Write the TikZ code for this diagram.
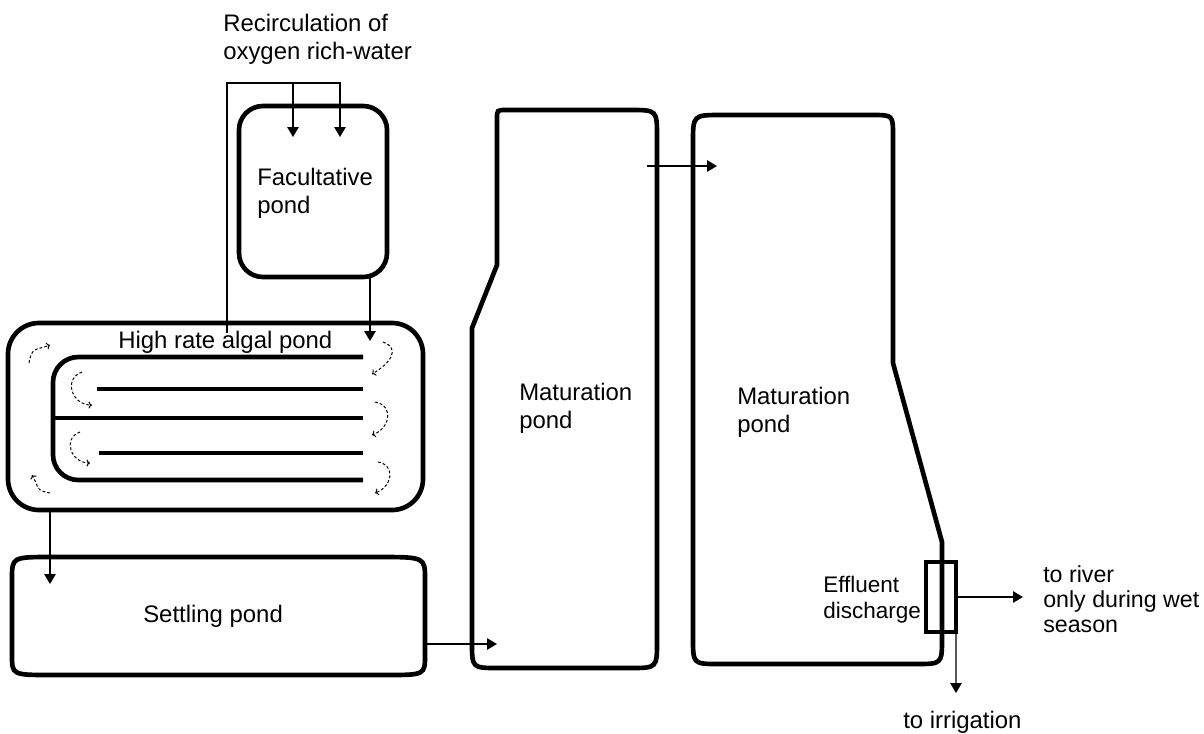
\documentclass[tikz,border=0pt]{standalone}
\usepackage{fontspec}
\setmainfont{Liberation Sans}
\usetikzlibrary{arrows.meta}

\begin{document}
\begin{tikzpicture}[x=0.025cm, y=-0.025cm,
  font=\fontsize{17}{19.5}\selectfont,
  pond/.style={draw, line width=3.3pt},
  flow/.style={line width=1pt, -{Triangle[length=7pt,width=8pt]}},
  swirl/.style={line width=0.7pt, dash pattern=on 2pt off 1.5pt, looseness=1.5, -{To[length=2.5pt,width=5pt]}},
  lbl/.style={align=left, inner sep=0pt, anchor=base west}]
%\draw[help lines] (0,0) grid[step=50] (1204,733);
\useasboundingbox (0,0) rectangle (1204,733);

% ponds
\draw[pond, rounded corners=17pt] (239,106) rectangle (387,277);
\draw[pond, rounded corners=22pt] (8,323) rectangle (423,510);
\draw[pond, rounded corners=18pt] (363,357) -- (53,357) -- (53,480) -- (363,480);
\draw[pond] (53,418) -- (363,418);
\draw[pond] (97,389) -- (363,389);
\draw[pond] (99,453) -- (363,453);
\draw[pond] (52,557) -- (377,557) .. controls (425,557) .. (425,579) -- (425,655)
  .. controls (425,675) .. (385,675) -- (52,675) .. controls (12,675) .. (12,655)
  -- (12,579) .. controls (12,557) .. (52,557) -- cycle;
\draw[pond] (497,265) -- (497,119) .. controls (497,110) .. (506,110) -- (630,110)
  .. controls (657,110) .. (657,137) -- (657,641) .. controls (657,668) .. (630,668)
  -- (498,668) .. controls (472,668) .. (472,642) -- (472,328) -- cycle;
\draw[pond] (693,143) .. controls (693,115) .. (721,115) -- (872,115)
  .. controls (893,115) .. (893,136) -- (893,363) -- (942,542) -- (942,638)
  .. controls (942,664) .. (916,664) -- (719,664) .. controls (693,664) .. (693,638) -- cycle;
\node (valve) [draw, line width=3pt, minimum width=0.75cm, minimum height=1.75cm,
  inner sep=0pt, outer sep=0pt] at (941,597) {};

% flow in the algal pond
\draw[swirl] (29,363) to[out=80,in=200] (50,345);
\draw[swirl] (50,493) to[out=170,in=-60] (32,475);
\draw[swirl] (82,372) to[out=200,in=180] (92,405);
\draw[swirl] (80,432) to[out=200,in=180] (90,463);
\draw[swirl] (383,342) to[out=-20,in=30] (372,374);
\draw[swirl] (375,402) to[out=-10,in=20] (372,435);
\draw[swirl] (378,462) to[out=-10,in=20] (375,493);

% labels (base = last line)
\node (recirc) [lbl] at (223,59) {Recirculation of\\oxygen rich-water};
\node (facl) [lbl] at (257,213) {Facultative\\pond};
\node (hrapl) [lbl] at (118,348) {High rate algal pond};
\node (setl) [lbl] at (143,622) {Settling pond};
\node (mat1l) [lbl] at (519,428) {Maturation\\pond};
\node (mat2l) [lbl] at (737,432) {Maturation\\pond};
\node (effl) [lbl, font=\fontsize{16}{18}\selectfont] at (823,618) {Effluent\\discharge};
\node (river) [lbl, font=\fontsize{16.5}{17.5}\selectfont] at (1043,632) {to river\\only during wet\\season};
\node (irrig) [lbl] at (903,728) {to irrigation};

% pipes
\coordinate (take) at (227,333);
\coordinate (split) at (340,83);
\coordinate (facin1) at (293,137);
\coordinate (facin2) at (340,137);
\coordinate (facout) at (370,277);
\coordinate (hrapin) at (370,341);
\coordinate (hrapout) at (50,510);
\coordinate (setin) at (50,584);
\coordinate (setout) at (425,644);
\coordinate (mat1in) at (497,644);
\coordinate (mat1out) at (647,166);
\coordinate (mat2in) at (717,166);
\coordinate (riverend) at (1023,597);
\coordinate (irrigend) at (956,693);
\draw[flow] (take) |- (split) -- (facin2);
\draw[flow] (facin1 |- split) -- (facin1);
\path
(facout) edge[flow] (hrapin)
(hrapout) edge[flow] (setin)
(setout) edge[flow] (mat1in)
(mat1out) edge[flow] (mat2in)
(valve.east) edge[flow] (riverend)
(valve.south east) edge[flow] (irrigend);
\end{tikzpicture}
\end{document}
